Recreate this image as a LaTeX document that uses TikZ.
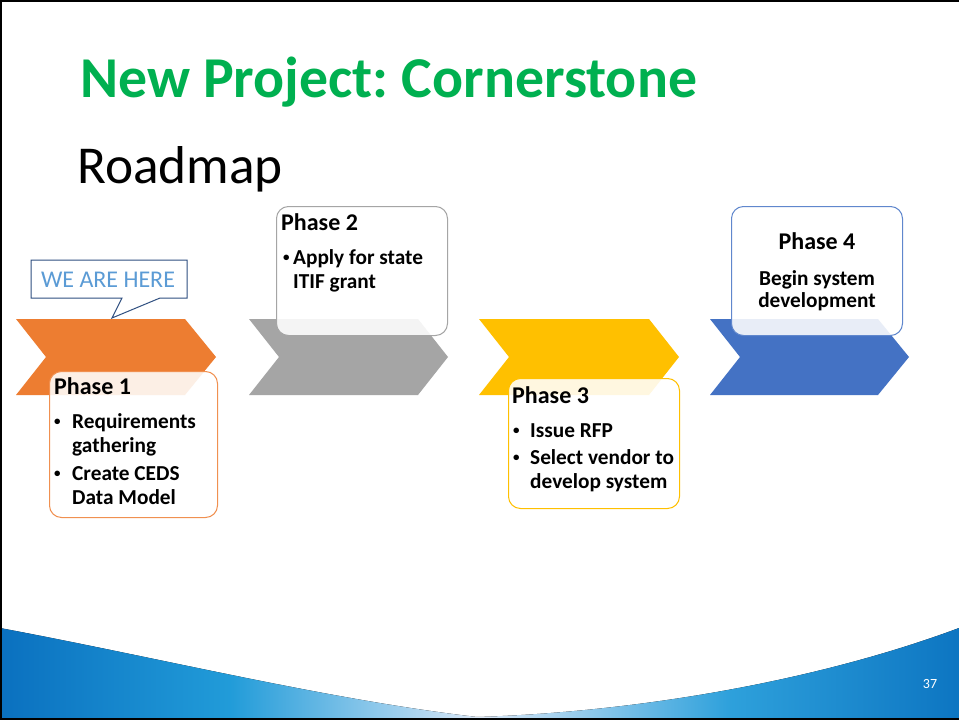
\documentclass[tikz,border=0pt]{standalone}
\usepackage{fontspec}
\setmainfont{Carlito}
\usetikzlibrary{positioning}
\frenchspacing

\definecolor{titlegreen}{HTML}{00B050}
\definecolor{orange1}{HTML}{ED7D31}
\definecolor{gray1}{HTML}{A5A5A5}
\definecolor{gold1}{HTML}{FFC000}
\definecolor{blue1}{HTML}{4472C4}
\definecolor{calloutline}{HTML}{2F4F80}
\definecolor{callouttext}{HTML}{5B9BD5}

\pgfdeclarehorizontalshading{swoosh}{100bp}{rgb(0bp)=(0.04,0.44,0.75); rgb(25bp)=(0.04,0.44,0.75); rgb(37bp)=(0.13,0.61,0.85); rgb(50bp)=(0.86,0.91,0.97); rgb(63bp)=(0.18,0.63,0.86); rgb(75bp)=(0.05,0.46,0.76); rgb(100bp)=(0.05,0.46,0.76)}

\tikzset{
  phasebox/.style={draw, rounded corners=12pt, fill=white, fill opacity=0.88, line width=1pt, anchor=north west, inner sep=0pt},
  heading/.style={anchor=base west, inner sep=0pt, font=\fontsize{24}{28}\selectfont\bfseries},
  bodytext/.style={anchor=base west, inner sep=0pt, font=\fontsize{21.3}{24}\selectfont\bfseries},
}
\newcommand{\bul}[1]{\makebox[#1][l]{\raisebox{2.5pt}{\fontsize{13}{14}\selectfont\textbullet}}}

\begin{document}
\begin{tikzpicture}[x=1pt,y=-1pt]
  \useasboundingbox (0,0) rectangle (959,720);
  \fill[white] (0,0) rectangle (959,720);
  % bottom swoosh
  \fill[shading=swoosh] (0,628) .. controls (160,658) and (330,700) .. (477,717)
    .. controls (640,712) and (820,680) .. (959,628) -- (959,720) -- (0,720) -- cycle;
  \draw[line width=3pt] (0,720) -- (0,0) -- (959,0);
  \draw[line width=4pt] (0,720) -- (959,720);

  \node[anchor=base west, inner sep=0pt, font=\fontsize{57.8}{64}\selectfont\bfseries, text=titlegreen] (title) at (80,97) {New Project: Cornerstone};
  \node[anchor=base west, inner sep=0pt, font=\fontsize{53.3}{60}\selectfont] (subtitle) at (77,183) {Roadmap};

  % chevrons
  \fill[orange1] (16,319) -- (185,319) -- (216,357) -- (185,395) -- (16,395) -- (46,357) -- cycle;
  \fill[gray1] (249,319) -- (418,319) -- (448,357) -- (418,395) -- (249,395) -- (279,357) -- cycle;
  \fill[gold1] (479,319) -- (649,319) -- (679,357) -- (649,395) -- (479,395) -- (509,357) -- cycle;
  \fill[blue1] (710,319) -- (878,319) -- (909,357) -- (878,395) -- (710,395) -- (740,357) -- cycle;

  % callout
  \draw[calloutline, line width=1pt, fill=white] (31,260) -- (187,260) -- (187,298) -- (160,298)
    -- (112,318) -- (122,298) -- (31,298) -- cycle;
  \node[anchor=base, inner sep=0pt, font=\fontsize{24}{28}\selectfont, text=callouttext] (here) at (108,287) {WE ARE HERE};

  % boxes
  \node[phasebox, draw=orange1!85, minimum width=168, minimum height=146] (box1) at (49,371) {};
  \node[phasebox, draw=gray1, minimum width=171, minimum height=129] (box2) at (276,206) {};
  \node[phasebox, draw=gold1, minimum width=171, minimum height=130] (box3) at (508,378) {};
  \node[phasebox, draw=blue1!85, minimum width=171, minimum height=129] (box4) at (731,206) {};

  \node[heading] (head1) at (54,394) {Phase 1};
  \node[bodytext] (body1) at (54,428) {\begin{tabular}[t]{@{}l@{}l@{}}
    \bul{18pt} & Requirements\\ & gathering\\[4pt]
    \bul{18pt} & Create CEDS\\ & Data Model\end{tabular}};

  \node[heading] (head2) at (281,230) {Phase 2};
  \node[bodytext] (body2) at (283,264) {\begin{tabular}[t]{@{}l@{}l@{}}
    \bul{10pt} & Apply for state\\ & ITIF grant\end{tabular}};

  \node[heading] (head3) at (512,403) {Phase 3};
  \node[bodytext] (body3) at (513,437) {\begin{tabular}[t]{@{}l@{}l@{}}
    \bul{17pt} & Issue RFP\\[3pt]
    \bul{17pt} & Select vendor to\\ & develop system\end{tabular}};

  \node[heading, anchor=base] (head4) at (817,249) {Phase 4};
  \node[bodytext, anchor=base] (body4) at (817,285) {\begin{tabular}[t]{@{}c@{}}
    Begin system\\[-2pt] development\end{tabular}};

  \node[anchor=base, inner sep=0pt, text=white, font=\fontsize{14}{16}\selectfont] (pageno) at (930,688) {37};
\end{tikzpicture}
\end{document}
